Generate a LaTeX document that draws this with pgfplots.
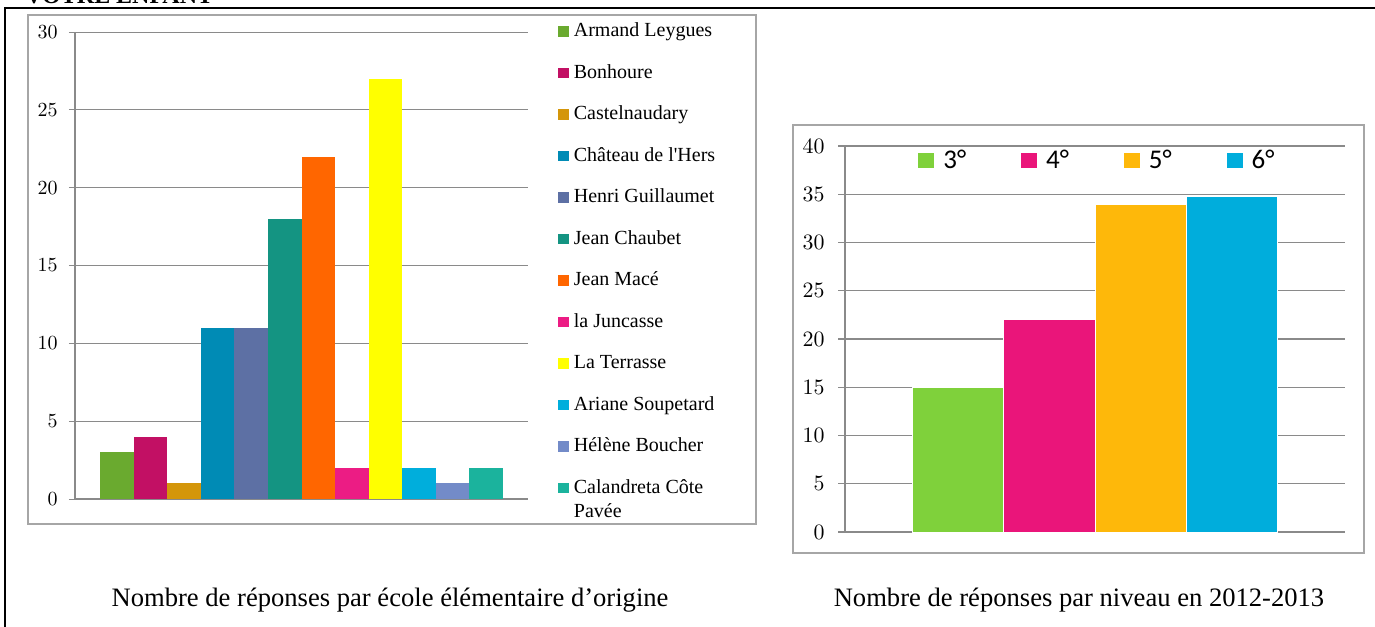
\documentclass[border=0pt]{standalone}
\usepackage{fontspec}
\setmainfont{Liberation Serif}
\newfontfamily\calibri{Carlito}
\usepackage{pgfplots}
\pgfplotsset{compat=1.18}
\definecolor{cAL}{HTML}{6AAA2F}
\definecolor{cBO}{HTML}{C21064}
\definecolor{cCA}{HTML}{D4960A}
\definecolor{cCH}{HTML}{008BB5}
\definecolor{cHG}{HTML}{5D70A4}
\definecolor{cJC}{HTML}{149482}
\definecolor{cJM}{HTML}{FF6600}
\definecolor{cLJ}{HTML}{EC1C84}
\definecolor{cLT}{HTML}{FFFF00}
\definecolor{cAS}{HTML}{00AEDC}
\definecolor{cHB}{HTML}{738BC8}
\definecolor{cCC}{HTML}{1BB39D}
\definecolor{n3}{HTML}{7FD13B}
\definecolor{n4}{HTML}{EA157A}
\definecolor{n5}{HTML}{FEB80A}
\definecolor{n6}{HTML}{00ADDC}
\definecolor{axgray}{HTML}{8A8A8A}
\definecolor{frgray}{HTML}{A6A6A6}
\newcommand\LL{\rule[-2pt]{0pt}{9pt}}
\newcommand\RL{\rule[-1.5pt]{0pt}{11.5pt}}
\begin{document}
\begin{tikzpicture}[x=0.5pt,y=-0.5pt]
\useasboundingbox (0,0) rectangle (1375,626);
\begin{scope}
\clip (0,0) rectangle (1375,626);
\node[anchor=base west, font=\bfseries\fontsize{12}{14}\selectfont, inner sep=0pt] at (25,4) {VOTRE ENFANT};
\end{scope}
\draw[line width=1pt] (5,630) -- (5,8) -- (1380,8);
\draw[frgray, line width=0.8pt] (28,15) rectangle (756,524);
\draw[frgray, line width=0.8pt] (793,125) rectangle (1364,553);
% left chart
\begin{axis}[at={(37.5pt,-249.5pt)}, anchor=south west, scale only axis,
  width=226.5pt, height=233.5pt,
  xmin=-1.244, xmax=12.244, ymin=0, ymax=30,
  ytick={0,5,...,30}, xtick=\empty,
  axis x line=bottom, axis y line=left,
  axis line style={-, draw=axgray, line width=0.7pt},
  ymajorgrids, grid style={axgray, line width=0.5pt},
  tick align=outside, major tick length=3pt,
  y tick style={axgray, line width=0.5pt},
  yticklabel style={font=\fontsize{10}{12}\selectfont, inner sep=0pt, anchor=east, xshift=-5.5pt},
  every axis plot/.append style={ybar, bar width=1, bar shift=0pt, draw=none,
    legend image code/.code={\fill (0pt,-2.6pt) rectangle (5.25pt,2.6pt);}},
  legend cell align=left,
  legend style={at={(1.0662,1.0203)}, anchor=north west, draw=none, fill=none,
    inner sep=0pt, nodes={inner sep=0pt}, column sep=2.5pt, row sep=12.25pt,
    font=\fontsize{10}{12}\selectfont},
]
\addplot[fill=cAL] coordinates {(0,3)}; \addlegendentry{\LL Armand Leygues}
\addplot[fill=cBO] coordinates {(1,4)}; \addlegendentry{\LL Bonhoure}
\addplot[fill=cCA] coordinates {(2,1)}; \addlegendentry{\LL Castelnaudary}
\addplot[fill=cCH] coordinates {(3,11)}; \addlegendentry{\LL Château de l\textquotesingle Hers}
\addplot[fill=cHG] coordinates {(4,11)}; \addlegendentry{\LL Henri Guillaumet}
\addplot[fill=cJC] coordinates {(5,18)}; \addlegendentry{\LL Jean Chaubet}
\addplot[fill=cJM] coordinates {(6,22)}; \addlegendentry{\LL Jean Macé}
\addplot[fill=cLJ] coordinates {(7,2)}; \addlegendentry{\LL la Juncasse}
\addplot[fill=cLT] coordinates {(8,27)}; \addlegendentry{\LL La Terrasse}
\addplot[fill=cAS] coordinates {(9,2)}; \addlegendentry{\LL Ariane Soupetard}
\addplot[fill=cHB] coordinates {(10,1)}; \addlegendentry{\LL Hélène Boucher}
\addplot[fill=cCC] coordinates {(11,2)}; \addlegendentry{\LL\rlap{\raisebox{-12pt}[0pt][0pt]{Pavée}}Calandreta Côte}
\end{axis}
% right chart
\begin{axis}[at={(422.5pt,-266pt)}, anchor=south west, scale only axis,
  width=250pt, height=193pt,
  xmin=-1.238, xmax=4.238, ymin=0, ymax=40,
  ytick={0,5,...,40}, xtick=\empty,
  axis x line=bottom, axis y line=left,
  axis line style={-, draw=axgray, line width=0.7pt},
  ymajorgrids, grid style={axgray, line width=0.7pt},
  tick align=outside, major tick length=3.5pt,
  y tick style={axgray, line width=0.7pt},
  yticklabel style={font=\calibri\fontsize{10.5}{12}\selectfont, inner sep=0pt, anchor=east, xshift=-6.5pt},
  every axis plot/.append style={ybar, bar width=1, bar shift=0pt, draw=white, line width=0.5pt,
    legend image code/.code={\fill (0pt,-4pt) rectangle (8.5pt,4pt);}},
  legend columns=4, legend cell align=left,
  legend style={at={(0.144,0.9935)}, anchor=north west, draw=none, fill=none,
    inner sep=0pt, nodes={inner sep=0pt}, column sep=4pt,
    /tikz/every even column/.append style={column sep=26.95pt},
    font=\calibri\fontsize{13.5}{16}\selectfont},
]
\addplot[fill=n3] coordinates {(0,15)}; \addlegendentry{\RL 3°}
\addplot[fill=n4] coordinates {(1,22)}; \addlegendentry{\RL 4°}
\addplot[fill=n5] coordinates {(2,33.9)}; \addlegendentry{\RL 5°}
\addplot[fill=n6] coordinates {(3,34.8)}; \addlegendentry{\RL 6°}
\end{axis}
\node[font=\fontsize{13.3}{15}\selectfont, anchor=base] at (390,606) {Nombre de réponses par école élémentaire d’origine};
\node[font=\fontsize{13.3}{15}\selectfont, anchor=base] at (1079,606) {Nombre de réponses par niveau en 2012-2013};
\end{tikzpicture}
\end{document}
